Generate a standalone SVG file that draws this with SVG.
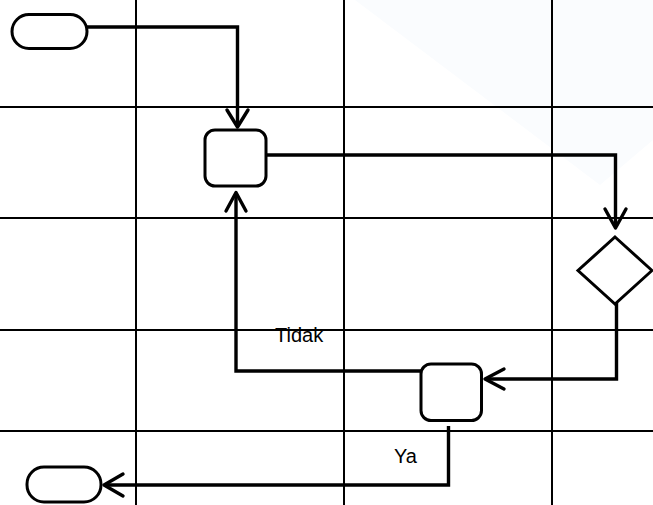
<svg xmlns="http://www.w3.org/2000/svg" width="653" height="505" viewBox="0 0 653 505">
  <style>
    .grid { stroke: #000; stroke-width: 2; fill: none; }
    .node { fill: #fff; stroke: #000; stroke-width: 3; }
    .conn { fill: none; stroke: #000; stroke-width: 3.4; stroke-linejoin: miter; }
    .head { fill: none; stroke: #000; stroke-width: 3.4; stroke-linecap: round; stroke-linejoin: round; }
    .label { font-family: "Liberation Sans", Arial, sans-serif; font-size: 20px; fill: #000; }
  </style>
  <rect x="0" y="0" width="653" height="505" fill="#fff"/>
  <polygon points="355,0 600,185 653,140 653,0" fill="#fafcfe"/>
  <g id="grid">
    <line class="grid" x1="0" y1="107" x2="653" y2="107"/>
    <line class="grid" x1="0" y1="218" x2="653" y2="218"/>
    <line class="grid" x1="0" y1="330" x2="653" y2="330"/>
    <line class="grid" x1="0" y1="431" x2="653" y2="431"/>
    <line class="grid" x1="136" y1="0" x2="136" y2="505"/>
    <line class="grid" x1="344" y1="0" x2="344" y2="505"/>
    <line class="grid" x1="552" y1="0" x2="552" y2="505"/>
  </g>
  <g id="connectors">
    <polyline class="conn" points="87,27 237.5,27 237.5,126"/>
    <polyline class="head" points="227,110 237.5,127 248,110"/>
    <polyline class="conn" points="266,155 615.5,155 615.5,227"/>
    <polyline class="head" points="605,209 615.5,228 626,209"/>
    <polyline class="conn" points="616.5,303 616.5,379 486,379"/>
    <polyline class="head" points="504,369 485,379 504,389"/>
    <polyline class="conn" points="421,371 236,371 236,193"/>
    <polyline class="head" points="226,211 236,192.5 246,211"/>
    <polyline class="conn" points="448.5,426 448.5,485 105,485"/>
    <polyline class="head" points="123,474 104,485 123,496"/>
  </g>
  <g id="start">
    <rect class="node" x="12" y="14.5" width="75" height="34" rx="17"/>
  </g>
  <g id="process1">
    <rect class="node" x="205" y="130" width="61" height="56" rx="10"/>
  </g>
  <g id="decision">
    <polygon class="node" points="615,237 652,270.5 615,304 578,270.5"/>
  </g>
  <g id="process2">
    <rect class="node" x="421" y="364" width="60.5" height="56.5" rx="10"/>
  </g>
  <g id="end">
    <rect class="node" x="27" y="467" width="74" height="35" rx="17"/>
  </g>
  <g id="labels">
    <text class="label" x="275" y="342">Tidak</text>
    <text class="label" x="394" y="463">Ya</text>
  </g>
</svg>
